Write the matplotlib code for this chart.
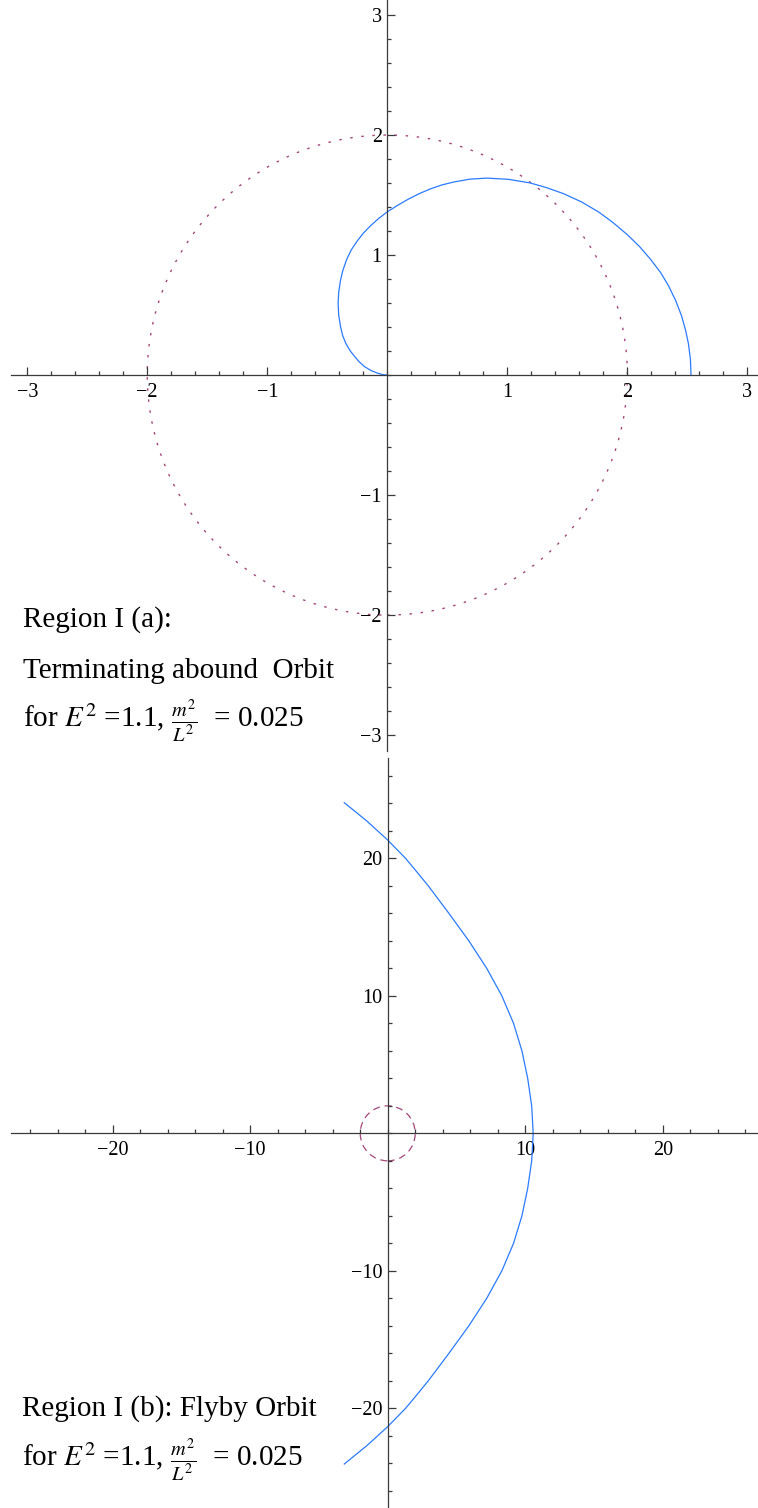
import matplotlib
matplotlib.use("Agg")
import matplotlib.pyplot as plt
from matplotlib.patches import Circle
from matplotlib.ticker import MultipleLocator

plt.rcParams['font.family'] = ['Liberation Serif', 'DejaVu Serif']
plt.rcParams['mathtext.fontset'] = 'stix'
plt.rcParams['lines.scale_dashes'] = False

# horizon radius
r_h = 2.0

# (a) terminating bound orbit, from the origin out to the turning point
orb_a_x = [0.0, -0.035, -0.077, -0.135, -0.188, -0.233, -0.271, -0.311, -0.346, -0.372,
           -0.390, -0.405, -0.410, -0.405, -0.390, -0.370, -0.340, -0.301, -0.248, -0.198,
           -0.138, -0.069, 0.0, 0.084, 0.172, 0.267, 0.361, 0.454, 0.551, 0.686,
           0.829, 1.007, 1.189, 1.328, 1.469, 1.619, 1.763, 1.882, 2.0, 2.101,
           2.194, 2.278, 2.343, 2.402, 2.451, 2.485, 2.508, 2.525, 2.53]
orb_a_y = [0.0, 0.003, 0.014, 0.037, 0.069, 0.109, 0.153, 0.204, 0.264, 0.329,
           0.404, 0.500, 0.597, 0.690, 0.790, 0.873, 0.960, 1.042, 1.121, 1.184,
           1.246, 1.307, 1.360, 1.413, 1.464, 1.512, 1.552, 1.584, 1.608, 1.632,
           1.641, 1.631, 1.601, 1.561, 1.511, 1.442, 1.357, 1.269, 1.169, 1.071,
           0.963, 0.852, 0.743, 0.621, 0.494, 0.372, 0.264, 0.132, 0.0]

# (b) flyby orbit
orb_b_x = [-3.16, -1.5, 0.0, 1.3, 2.13, 2.95, 4.45, 5.9, 7.2, 8.3, 9.15, 9.76, 10.18, 10.47,
           10.58,
           10.47, 10.18, 9.76, 9.15, 8.3, 7.2, 5.9, 4.45, 2.95, 2.13, 1.3, 0.0, -1.5, -3.16]
orb_b_y = [24.05, 22.7, 21.33, 20, 19, 18, 16, 14, 12, 10, 8, 6, 4, 2,
           0,
           -2, -4, -6, -8, -10, -12, -14, -16, -18, -19, -20, -21.33, -22.7, -24.05]

ticks_a = [-3, -2, -1, 1, 2, 3]
labels_a = ['\u22123', '\u22122', '\u22121', '1', '2', '3']
ticks_b = [-20, -10, 10, 20]
labels_b = ['\u221220', '\u221210', '10', '20']

blue = '#2a7bff'
purple = '#a3467a'
axcol = '#3a3a3a'

W, H = 758, 1508
fig = plt.figure(figsize=(W / 100, H / 100), dpi=100)


def setup(ax, ticks, labels, minor):
    for s in ['top', 'right']:
        ax.spines[s].set_visible(False)
    for s in ['left', 'bottom']:
        ax.spines[s].set_position('zero')
        ax.spines[s].set_color(axcol)
        ax.spines[s].set_linewidth(0.9)
    ax.set_xticks(ticks, labels)
    ax.set_yticks(ticks, labels)
    ax.xaxis.set_minor_locator(MultipleLocator(minor))
    ax.yaxis.set_minor_locator(MultipleLocator(minor))
    ax.tick_params(which='both', direction='in', color=axcol, width=0.9,
                   labelsize=14.5, labelcolor='black')
    ax.tick_params(which='major', length=5.5, pad=4)
    ax.tick_params(axis='x', which='major', pad=5.5)
    ax.tick_params(which='minor', length=3.2)
    ax.patch.set_visible(False)


ax1 = fig.add_axes([11 / W, 1 - 750.7 / H, (W - 11) / W, 750.7 / H])
ax1.set_xlim(-3.135, 3.088)
ax1.set_ylim(-3.13, 3.125)
setup(ax1, ticks_a, labels_a, 0.2)
ax1.add_patch(Circle((0, 0), r_h, fill=False, ec=purple, lw=1.0, ls=(0, (1.8, 6.2))))
ax1.plot(orb_a_x, orb_a_y, color=blue, lw=0.9)

ax2 = fig.add_axes([11 / W, 0, (W - 11) / W, 750 / H])
ax2.set_xlim(-27.4, 26.93)
ax2.set_ylim(-27.25, 27.3)
setup(ax2, ticks_b, labels_b, 2)
ax2.add_patch(Circle((0, 0), r_h, fill=False, ec=purple, lw=0.9, ls=(0, (5, 3.5))))
ax2.plot(orb_b_x, orb_b_y, color=blue, lw=0.9)

txt = dict(fontsize=21, va='baseline', ha='left')
fig.text(23 / W, 1 - 626.7 / H, 'Region I (a):', **txt)
fig.text(23 / W, 1 - 678.3 / H, 'Terminating abound  Orbit', **txt)
fig.text(23 / W, 1 - 726.7 / H, r'for $E^2$ =1.1, $\frac{m^2}{L^2}$  = 0.025', **txt)
fig.text(22 / W, 1 - 1415.7 / H, 'Region I (b): Flyby Orbit', **txt)
fig.text(22 / W, 1 - 1466 / H, r'for $E^2$ =1.1, $\frac{m^2}{L^2}$  = 0.025', **txt)

fig.savefig('out.png', dpi=100)
